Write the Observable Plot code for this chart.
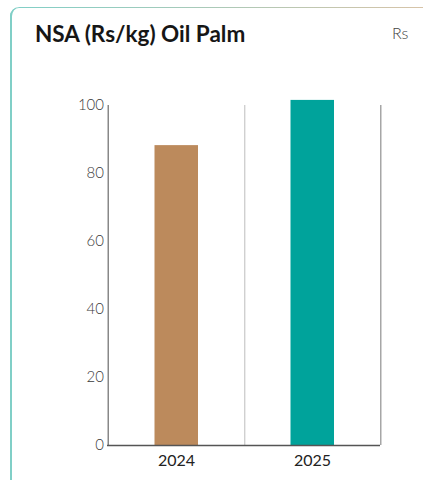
<!DOCTYPE html>
<html>
<head>
<meta charset="utf-8">
<script src="https://cdn.jsdelivr.net/npm/d3@7"></script>
<script src="https://cdn.jsdelivr.net/npm/@observablehq/plot@0.6"></script>
<style>
  html, body { margin: 0; padding: 0; background: #fff; overflow: hidden; }
  body { width: 423px; height: 480px; position: relative; font-family: Lato, "Open Sans", sans-serif; }
  .card {
    position: absolute; left: 10px; top: 7px; width: 440px; height: 500px;
    border-left: 2px solid #80cfc7; border-top-left-radius: 9px;
    box-sizing: border-box;
  }
  .card::before {
    content: ""; position: absolute; left: -2px; top: 0; right: 0; height: 9px;
    border-top: 1.5px solid transparent; border-left: 2px solid transparent;
    border-top-left-radius: 9px;
    background: linear-gradient(to right, #80cfc7, #ddc3a6) border-box;
    -webkit-mask: linear-gradient(#000 0 0) padding-box, linear-gradient(#000 0 0);
    -webkit-mask-composite: xor; mask-composite: exclude;
  }
  .title { position: absolute; left: 35px; top: 20px; font-size: 22.5px; font-weight: 700; color: #161616; white-space: nowrap; line-height: 1.2; }
  .unit { position: absolute; left: 392px; top: 23px; font-size: 16px; font-weight: 300; color: #444; line-height: 1.2; }
  #chart { position: absolute; left: 0; top: 0; }
</style>
</head>
<body>
<div class="card"></div>
<div class="title">NSA (Rs/kg) Oil Palm</div>
<div class="unit">Rs</div>
<div id="chart"></div>
<script>
// Net selling average by year
const years = ["2024", "2025"];
const prices = [88.2, 101.5];
const barColors = ["#bc8a5c", "#00a39b"];
const yTicks = [0, 20, 40, 60, 80, 100];

const data = years.map((year, i) => ({year, price: prices[i], color: barColors[i]}));

const step = (423 - 107 - 43) / years.length;

const chart = Plot.plot({
  width: 423,
  height: 480,
  marginLeft: 107,
  marginRight: 43,
  marginTop: 105,
  marginBottom: 35,
  style: {fontFamily: "Lato, 'Open Sans', sans-serif", background: "transparent", overflow: "visible"},
  x: {domain: years, padding: 0, label: null},
  y: {domain: [0, 100], label: null},
  marks: [
    // column separators at the right edge of each year band
    Plot.ruleX(years.slice(0, -1), {x: d => d, dx: step / 2, stroke: "#c8c8c8", strokeWidth: 1.2}),
    Plot.ruleX(years.slice(-1), {x: d => d, dx: step / 2, stroke: "#a6a6a6", strokeWidth: 1.5}),
    // left axis line
    Plot.ruleX(years.slice(0, 1), {x: d => d, dx: -step / 2, stroke: "#888", strokeWidth: 1.5}),
    Plot.barY(data, {x: "year", y: "price", fill: "color", insetLeft: 46.5, insetRight: 46}),
    Plot.ruleY([0], {stroke: "#555", strokeWidth: 1.5}),
    Plot.axisY({ticks: yTicks, tickSize: 0, tickPadding: 3.5, fontSize: 15, fontWeight: 300, fill: "#3a3a3a", label: null}),
    Plot.axisX({tickSize: 0, tickPadding: 9, fontSize: 16, fontWeight: 400, fill: "#222", label: null})
  ]
});
document.getElementById("chart").appendChild(chart);
</script>
</body>
</html>
